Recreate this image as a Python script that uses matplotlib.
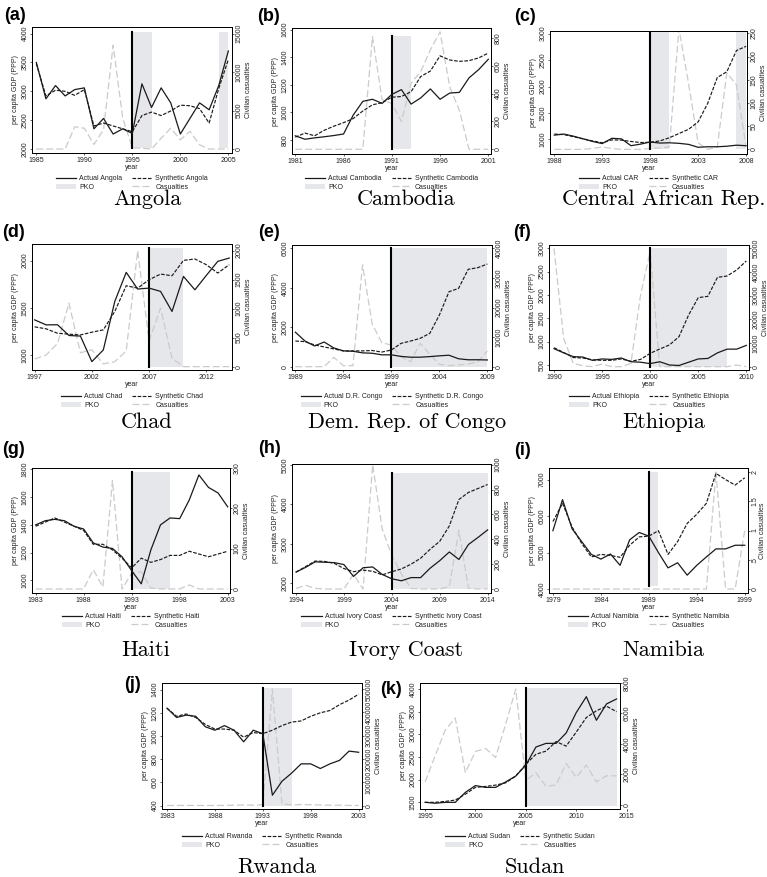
"""Synthetic-control GDP paths for eleven peacekeeping cases, with PKO periods and casualties."""

import matplotlib
matplotlib.use("Agg")
import matplotlib.pyplot as plt
import matplotlib.transforms as mtransforms
from matplotlib.lines import Line2D
from matplotlib.patches import Patch

# ---- data ------------------------------------------------------------------
angola_years = list(range(1985, 2006))
angola_actual = [3500, 2870, 3100, 2920, 3030, 3060, 2350, 2530, 2260, 2350, 2270,
                 3130, 2720, 3060, 2800, 2260, 2530, 2800, 2680, 3100, 3700]
angola_synth = [3480, 2920, 3020, 3000, 2930, 3030, 2400, 2450, 2400, 2350, 2300,
                2580, 2640, 2580, 2660, 2760, 2750, 2700, 2450, 3050, 3550]
angola_cas = [0, 0, 0, 0, 2900, 2700, 600, 2500, 13500, 4000, 150,
              100, 0, 1400, 2700, 1200, 2300, 550, 0, 0, 0]

cambodia_years = list(range(1981, 2002))
cambodia_actual = [830, 805, 815, 823, 832, 843, 980, 1080, 1095, 1065, 1130,
                   1165, 1060, 1105, 1170, 1095, 1140, 1145, 1250, 1310, 1385]
cambodia_synth = [820, 850, 830, 870, 900, 925, 955, 1010, 1055, 1070, 1110,
                  1115, 1150, 1260, 1300, 1410, 1380, 1370, 1375, 1395, 1430]
cambodia_cas = [0, 0, 0, 0, 0, 0, 0, 0, 810, 355, 330,
                200, 475, 560, 715, 845, 450, 280, 0, 0, 0]

car_years = list(range(1988, 2009))
car_actual = [1080, 1100, 1060, 1010, 960, 920, 1020, 1010, 880, 910, 950,
              930, 935, 925, 905, 850, 860, 860, 870, 890, 880]
car_synth = [1100, 1090, 1050, 1010, 970, 935, 990, 985, 960, 940, 945,
             970, 1030, 1110, 1190, 1330, 1680, 2170, 2280, 2680, 2760]
car_cas = [0, 0, 0, 0, 2, 5, 2, 0, 0, 0, 2,
           3, 5, 260, 142, 14, 0, 5, 165, 139, 6]

chad_years = list(range(1997, 2015))
chad_actual = [1372, 1319, 1320, 1206, 1200, 929, 1053, 1567, 1876, 1699,
               1709, 1674, 1461, 1833, 1691, 1844, 1993, 2028]
chad_synth = [1298, 1277, 1230, 1220, 1212, 1241, 1266, 1461, 1734, 1709,
              1798, 1858, 1840, 2003, 2018, 1957, 1869, 1957]
chad_cas = [130, 200, 400, 1095, 240, 290, 46, 86, 270, 2000,
            444, 1008, 144, 0, 0, 0, 0, 0]

drc_years = list(range(1989, 2010))
drc_actual = [1750, 1300, 1050, 1250, 950, 800, 780, 700, 680, 600, 600,
              520, 480, 480, 510, 550, 580, 400, 350, 350, 340]
drc_synth = [1300, 1270, 1100, 1000, 900, 800, 800, 800, 820, 740, 845,
             1180, 1300, 1436, 1690, 2620, 3800, 3970, 4935, 5020, 5205]
drc_cas = [0, 0, 0, 0, 3150, 340, 340, 34400, 14400, 8100, 7300,
           3380, 1690, 7900, 4170, 790, 340, 560, 900, 1690, 5300]

ethiopia_years = list(range(1990, 2011))
ethiopia_actual = [850, 760, 680, 670, 600, 630, 620, 650, 570, 560, 530,
                   570, 500, 490, 560, 630, 640, 760, 840, 840, 920]
ethiopia_synth = [870, 770, 660, 650, 610, 600, 600, 630, 580, 620, 750,
                  843, 929, 1107, 1571, 1943, 1971, 2379, 2407, 2536, 2729]
ethiopia_cas = [50000, 12000, 1400, 400, 0, 1100, 0, 0, 1400, 30300, 48600,
                0, 0, 0, 0, 0, 0, 0, 0, 700, 0]

haiti_years = list(range(1983, 2004))
haiti_actual = [1400, 1430, 1440, 1430, 1390, 1370, 1270, 1240, 1230, 1170, 1070,
                975, 1220, 1400, 1450, 1445, 1580, 1760, 1670, 1630, 1530]
haiti_synth = [1390, 1420, 1450, 1420, 1390, 1360, 1260, 1260, 1220, 1160, 1090,
               1160, 1130, 1150, 1180, 1180, 1210, 1190, 1170, 1190, 1210]
haiti_cas = [0, 0, 0, 0, 0, 0, 48, 5, 269, 0, 39,
             43, 2, 0, 0, 0, 10, 0, 0, 0, 0]

ivory_years = list(range(1994, 2015))
ivory_actual = [2280, 2400, 2540, 2530, 2520, 2470, 2170, 2390, 2410, 2220, 2110,
                2060, 2140, 2140, 2380, 2570, 2790, 2600, 2980, 3160, 3350]
ivory_synth = [2280, 2420, 2560, 2550, 2500, 2370, 2290, 2330, 2300, 2210, 2290,
               2360, 2480, 2630, 2860, 3060, 3450, 4120, 4300, 4400, 4500]
ivory_cas = [5, 30, 5, 0, 0, 0, 120, 0, 1000, 480, 270,
             120, 5, 0, 0, 0, 20, 470, 5, 0, 0]

namibia_years = list(range(1979, 2000))
namibia_actual = [5600, 6450, 5650, 5300, 4950, 4820, 4960, 4650, 5350, 5550, 5450,
                  5000, 4580, 4720, 4380, 4650, 4880, 5100, 5100, 5200, 5200]
namibia_synth = [5850, 6350, 5700, 5250, 4880, 4950, 4920, 4870, 5200, 5430, 5450,
                 5600, 4950, 5300, 5800, 6050, 6350, 7170, 7000, 6850, 7050]
namibia_cas = [0, 0, 0, 0, 0, 0, 0, 0, 0, 0, 0,
               0, 0, 0, 0, 0, 0, 2, 0, 0, 1]

rwanda_years = list(range(1983, 2004))
rwanda_actual = [1240, 1160, 1180, 1170, 1080, 1050, 1090, 1050, 950, 1050, 1020,
                 490, 610, 680, 760, 760, 720, 760, 790, 870, 860]
rwanda_synth = [1240, 1170, 1190, 1160, 1100, 1060, 1060, 1050, 990, 1030, 1020,
                1050, 1090, 1120, 1130, 1170, 1200, 1220, 1270, 1310, 1360]
rwanda_cas = [1000, 1000, 1000, 1000, 1000, 1000, 1000, 2000, 3000, 2000, 4000,
              500000, 8000, 3000, 5000, 4000, 3000, 2000, 2000, 1000, 1000]

sudan_years = list(range(1995, 2015))
sudan_actual = [1500, 1480, 1500, 1500, 1720, 1870, 1830, 1830, 1950, 2080,
                2320, 2720, 2800, 2800, 3030, 3480, 3830, 3310, 3670, 3780]
sudan_synth = [1500, 1500, 1520, 1550, 1680, 1830, 1850, 1880, 1930, 2080,
               2340, 2560, 2630, 2840, 2740, 3050, 3370, 3520, 3620, 3500]
sudan_cas = [1500, 3200, 4900, 5700, 2100, 3500, 3700, 3100, 5300, 7600,
             1600, 2100, 1200, 1300, 2700, 1800, 2600, 1500, 1900, 1900]

# ---- panel definitions -----------------------------------------------------
panels = [
    dict(tag="(a)", name="Angola", short="Angola",
         years=angola_years, actual=angola_actual, synth=angola_synth, cas=angola_cas,
         pko=[(1995, 1997), (2004, 2005)], start=1995,
         yticks=[2000, 2500, 3000, 3500, 4000], rticks=[0, 5000, 10000, 15000],
         xticks=[1985, 1990, 1995, 2000, 2005],
         ylim=(1931, 4115), rlim=(-517, 15862), xlim=(1984.55, 2005.38),
         box=(32, 27, 232, 153), shade=(0.039, 0.96), tagxy=(4, 7), row=0),
    dict(tag="(b)", name="Cambodia", short="Cambodia",
         years=cambodia_years, actual=cambodia_actual, synth=cambodia_synth, cas=cambodia_cas,
         pko=[(1991, 1993)], start=1991,
         yticks=[800, 1000, 1200, 1400, 1600], rticks=[0, 200, 400, 600, 800],
         xticks=[1981, 1986, 1991, 1996, 2001],
         ylim=(698, 1612), rlim=(-34, 872), xlim=(1980.66, 2001.28),
         box=(292, 28, 491, 154), shade=(0.037, 0.94), tagxy=(257, 8), row=0),
    dict(tag="(c)", name="Central African Rep.", short="CAR",
         years=car_years, actual=car_actual, synth=car_synth, cas=car_cas,
         pko=[(1998, 2000), (2007, 2008)], start=1998,
         yticks=[1000, 1500, 2000, 2500, 3000], rticks=[0, 50, 100, 150, 200, 250],
         xticks=[1988, 1993, 1998, 2003, 2008],
         ylim=(723, 3050), rlim=(-10, 255), xlim=(1987.55, 2008.1),
         box=(550, 31, 747, 154), shade=(0.038, 0.99), tagxy=(514, 8), row=0),
    dict(tag="(d)", name="Chad", short="Chad",
         years=chad_years, actual=chad_actual, synth=chad_synth, cas=chad_cas,
         pko=[(2007, 2010)], start=2007,
         yticks=[1000, 1500, 2000], rticks=[0, 500, 1000, 1500, 2000],
         xticks=[1997, 2002, 2007, 2012],
         ylim=(840, 2177), rlim=(-58, 2115), xlim=(1996.77, 2014.24),
         box=(32, 244, 232, 370), shade=(0.027, 0.968), tagxy=(2, 224), row=1),
    dict(tag="(e)", name="Dem. Rep. of Congo", short="D.R. Congo",
         years=drc_years, actual=drc_actual, synth=drc_synth, cas=drc_cas,
         pko=[(1999, 2009)], start=1999,
         yticks=[0, 2000, 4000, 6000], rticks=[0, 10000, 20000, 30000, 40000],
         xticks=[1989, 1994, 1999, 2004, 2009],
         ylim=(-169, 6169), rlim=(-1127, 41127), xlim=(1988.65, 2009.48),
         box=(292, 245, 492, 370), shade=(0.027, 0.973), tagxy=(258, 224), row=1),
    dict(tag="(f)", name="Ethiopia", short="Ethiopia",
         years=ethiopia_years, actual=ethiopia_actual, synth=ethiopia_synth, cas=ethiopia_cas,
         pko=[(2000, 2008)], start=2000,
         yticks=[500, 1000, 1500, 2000, 2500, 3000],
         rticks=[0, 10000, 20000, 30000, 40000, 50000],
         xticks=[1990, 1995, 2000, 2005, 2010],
         ylim=(393, 3071), rlim=(-1408, 51408), xlim=(1989.48, 2010.28),
         box=(549, 245, 749, 370), shade=(0.027, 0.973), tagxy=(513, 224), row=1),
    dict(tag="(g)", name="Haiti", short="Haiti",
         years=haiti_years, actual=haiti_actual, synth=haiti_synth, cas=haiti_cas,
         pko=[(1993, 1997)], start=1993,
         yticks=[1000, 1200, 1400, 1600, 1800], rticks=[0, 100, 200, 300],
         xticks=[1983, 1988, 1993, 1998, 2003],
         ylim=(909, 1810), rlim=(-10, 299), xlim=(1982.62, 2003.24),
         box=(32, 468, 230, 593), shade=(0.032, 0.968), tagxy=(2, 441), row=2),
    dict(tag="(h)", name="Ivory Coast", short="Ivory Coast",
         years=ivory_years, actual=ivory_actual, synth=ivory_synth, cas=ivory_cas,
         pko=[(2004, 2014)], start=2004,
         yticks=[2000, 3000, 4000, 5000], rticks=[0, 200, 400, 600, 800, 1000],
         xticks=[1994, 1999, 2004, 2009, 2014],
         ylim=(1750, 5020), rlim=(-32, 1005), xlim=(1993.58, 2014.35),
         box=(292, 464, 491, 593), shade=(0.031, 0.928), tagxy=(258, 440), row=2),
    dict(tag="(i)", name="Namibia", short="Namibia",
         years=namibia_years, actual=namibia_actual, synth=namibia_synth, cas=namibia_cas,
         pko=[(1989, 1990)], start=1989,
         yticks=[4000, 5000, 6000, 7000], rticks=[0, 0.5, 1, 1.5, 2],
         rticklabels=["0", ".5", "1", "1.5", "2"],
         xticks=[1979, 1984, 1989, 1994, 1999],
         ylim=(3891, 7318), rlim=(-0.068, 2.068), xlim=(1978.59, 1999.34),
         box=(549, 468, 748, 593), shade=(0.053, 0.968), tagxy=(514, 442), row=2,
         rpad=0.6),
    dict(tag="(j)", name="Rwanda", short="Rwanda",
         years=rwanda_years, actual=rwanda_actual, synth=rwanda_synth, cas=rwanda_cas,
         pko=[(1993, 1996)], start=1993,
         yticks=[400, 600, 800, 1000, 1200, 1400],
         rticks=[0, 100000, 200000, 300000, 400000, 500000],
         xticks=[1983, 1988, 1993, 1998, 2003],
         ylim=(371, 1457), rlim=(-14286, 525714), xlim=(1982.48, 2003.35),
         box=(162, 683, 362, 809), shade=(0.026, 0.96), tagxy=(124, 676), row=3),
    dict(tag="(k)", name="Sudan", short="Sudan",
         years=sudan_years, actual=sudan_actual, synth=sudan_synth, cas=sudan_cas,
         pko=[(2005, 2014)], start=2005,
         yticks=[1500, 2000, 2500, 3000, 3500, 4000], rticks=[0, 2000, 4000, 6000, 8000],
         xticks=[1995, 2000, 2005, 2010], extra_xtick=2015,
         ylim=(1353, 4132), rlim=(-285, 8000), xlim=(1994.5, 2014.34),
         box=(420, 683, 620, 809), shade=(0.026, 0.96), tagxy=(380, 681), row=3),
]

# per-row vertical placement (pixels from top): legend first-row centre, title baseline
legend_row_y = [180, 398, 618, 838]
title_base_y = [205, 428, 656, 873]

W, H = 767, 877
plt.rcParams["font.family"] = ["Liberation Sans", "DejaVu Sans"]
plt.rcParams["lines.scale_dashes"] = False

LINE = "#1a1a1a"
CAS = "#cbcbcb"
PKO = "#e6e7ea"
TXT = "#222222"
SYN_DASH = (2.6, 1.1)
CAS_DASH = (5.0, 2.2)

fig = plt.figure(figsize=(W / 100, H / 100), dpi=100)
fig.patch.set_facecolor("white")


def fx(px):
    return px / W


def fy(py):
    return 1 - py / H


def draw_panel(p):
    x0, y0, x1, y1 = p["box"]
    ax = fig.add_axes([fx(x0), fy(y1), fx(x1 - x0), (y1 - y0) / H])
    ax2 = ax.twinx()
    # shading + casualties underneath, GDP lines on top
    ax.set_zorder(ax2.get_zorder() + 1)
    ax.patch.set_visible(False)

    lo, hi = p["shade"]
    for a, b in p["pko"]:
        ax2.axvspan(a, b, ymin=lo, ymax=hi, color=PKO, lw=0, zorder=1)
    ax2.plot(p["years"], p["cas"], color=CAS, lw=0.9, dashes=CAS_DASH, zorder=2)

    ax.axvline(p["start"], ymin=lo, ymax=hi, color="black", lw=1.5, zorder=3)
    ax.plot(p["years"], p["synth"], color=LINE, lw=0.85, dashes=SYN_DASH, zorder=4)
    ax.plot(p["years"], p["actual"], color=LINE, lw=0.9, zorder=5)

    ax.set_xlim(*p["xlim"])
    ax.set_ylim(*p["ylim"])
    ax2.set_ylim(*p["rlim"])

    ax.set_xticks(p["xticks"])
    ax.set_xticklabels([str(t) for t in p["xticks"]], fontsize=5, color=TXT)
    ax.set_yticks(p["yticks"])
    ax.set_yticklabels([str(t) for t in p["yticks"]], fontsize=5, color=TXT,
                       rotation=90, va="center")
    ax2.set_yticks(p["rticks"])
    rlabels = p.get("rticklabels", [str(t) for t in p["rticks"]])
    ax2.set_yticklabels(rlabels, fontsize=5, color=TXT, rotation=90, va="center")

    for a in (ax, ax2):
        a.tick_params(direction="out", length=1.6, width=0.5, pad=1.0, colors=TXT)
        for s in a.spines.values():
            s.set_linewidth(0.7)
            s.set_color("black")

    ax.set_xlabel("year", fontsize=5, labelpad=0.5, color=TXT)
    ax.set_ylabel("per capita GDP (PPP)", fontsize=5, labelpad=1.5, color=TXT)
    ax2.set_ylabel("Civilian casualties", fontsize=5, labelpad=p.get("rpad", 1.5),
                   color=TXT)

    if "extra_xtick" in p:
        tr = mtransforms.blended_transform_factory(ax.transData, ax.transAxes)
        xt = p["extra_xtick"]
        ax.plot([xt, xt], [0, -0.018], transform=tr, color=TXT, lw=0.5, clip_on=False)
        ax.annotate(str(xt), xy=(xt, 0), xycoords=tr, xytext=(0, -2.8),
                    textcoords="offset points", ha="center", va="top",
                    fontsize=5, color=TXT, annotation_clip=False)

    # legend below the frame
    handles = [
        Line2D([], [], color=LINE, lw=0.9),
        Patch(facecolor=PKO, edgecolor="none"),
        Line2D([], [], color=LINE, lw=0.85, dashes=SYN_DASH),
        Line2D([], [], color=CAS, lw=0.9, dashes=CAS_DASH),
    ]
    labels = [f"Actual {p['short']}", "PKO", f"Synthetic {p['short']}", "Casualties"]
    cx = (x0 + x1) / 2
    fig.legend(handles, labels, ncol=2, loc="upper center",
               bbox_to_anchor=(fx(cx), fy(legend_row_y[p["row"]] - 4.5)),
               bbox_transform=fig.transFigure, frameon=False, fontsize=5,
               handlelength=2.9, handleheight=0.7, handletextpad=0.45,
               columnspacing=1.4, labelspacing=0.2, borderpad=0, borderaxespad=0,
               labelcolor=TXT)

    # country title in a TeX-like serif and bold panel tag
    fig.text(fx(cx + 15), fy(title_base_y[p["row"]]), p["name"], family="cmr10",
             fontsize=16, ha="center", va="baseline", color="black")
    tx, ty = p["tagxy"]
    fig.text(fx(tx), fy(ty), p["tag"], fontsize=13, fontweight="bold",
             ha="left", va="top", color="black")


for p in panels:
    draw_panel(p)

fig.savefig("out.png", dpi=100, facecolor="white")
plt.close(fig)
